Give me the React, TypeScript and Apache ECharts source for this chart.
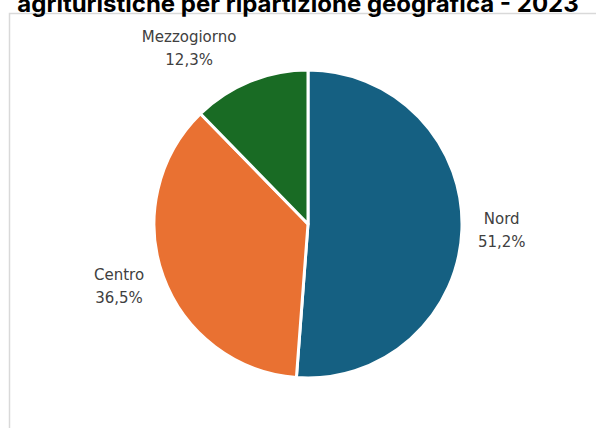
import React, { useEffect, useRef } from "react";
import * as echarts from "echarts";

const categories = ["Nord", "Centro", "Mezzogiorno"];
const shares = [51.2, 36.5, 12.3];
const colors = ["#156082", "#E97132", "#196B24"];
const labelLineLengths = [8, 30, 36];
const labelLineLengths2 = [3, 0, 0];
const labelDistances = [5, -9, 0];
const titleText = "agrituristiche per ripartizione geografica - 2023";

export default function App() {
  const ref = useRef<HTMLDivElement>(null);
  useEffect(() => {
    document.body.style.margin = "0";
    const chart = echarts.init(ref.current!, undefined, { renderer: "svg" });
    const data = categories.map((name, i) => ({
      name,
      value: shares[i],
      itemStyle: { color: colors[i] },
      labelLine: { show: false, length: labelLineLengths[i], length2: labelLineLengths2[i] },
      label: { distanceToLabelLine: labelDistances[i] },
    }));
    chart.setOption({
      animation: false,
      backgroundColor: "#ffffff",
      title: {
        text: titleText,
        left: "center",
        top: -14,
        textStyle: { fontFamily: "Inter", fontWeight: "bold", fontSize: 24, color: "#000000" },
      },
      graphic: [
        {
          type: "rect",
          shape: { x: 9.5, y: 13.5, width: 620, height: 440 },
          style: { fill: "none", stroke: "#d9d9d9", lineWidth: 1.5 },
          silent: true,
        },
      ],
      series: [
        {
          type: "pie",
          center: [308, 224],
          radius: 154,
          startAngle: 90,
          clockwise: true,
          avoidLabelOverlap: false,
          itemStyle: { borderColor: "#ffffff", borderWidth: 3 },
          label: {
            show: true,
            position: "outside",
            fontFamily: "DejaVu Sans",
            fontSize: 15,
            lineHeight: 23,
            color: "#404040",
            formatter: (p: any) => `${p.name}\n${p.value.toFixed(1).replace(".", ",")}%`,
          },
          labelLayout: (p: any) => ({
            x: p.labelRect.x + p.labelRect.width / 2,
            align: "center",
          }),
          emphasis: { disabled: true },
          data,
        },
      ],
    });
    return () => chart.dispose();
  }, []);
  return <div ref={ref} style={{ width: 596, height: 428, position: "absolute", left: 0, top: 0 }} />;
}
